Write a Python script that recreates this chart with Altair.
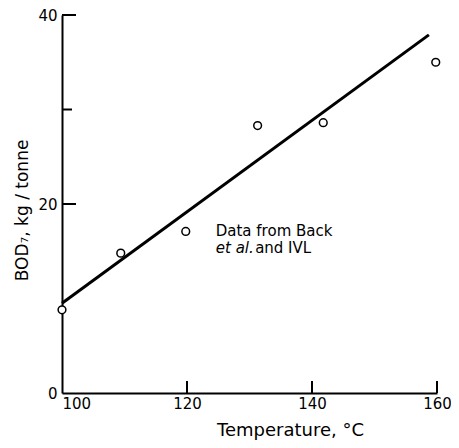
import altair as alt
import pandas as pd

# observed data (open circles)
temp_obs = [100.0, 109.4, 119.8, 131.3, 141.8, 159.8]
bod_obs = [8.8, 14.8, 17.1, 28.3, 28.6, 35.0]
# fitted line end points
fit_temp = [100.0, 158.7]
fit_bod = [9.5, 37.9]
# axis ticks
x_ticks = [100, 120, 140, 160]
y_ticks = [0, 20, 40]
x_inner_ticks = [120, 140, 160]
y_inner_major = [20, 40]
y_inner_minor = [30]
# annotation
note_text = ["Data from Back", "and IVL"]
note_x = [124.6, 130.9]
note_y = [16.6, 14.8]
note_it_text = ["et al."]
note_it_x = [124.6]
note_it_y = [14.8]

FONT = "DejaVu Sans"
W, H = 375, 378

obs = pd.DataFrame({"t": temp_obs, "b": bod_obs})
fit = pd.DataFrame({"t": fit_temp, "b": fit_bod})
xt = pd.DataFrame({"t": x_inner_ticks})
ytM = pd.DataFrame({"b": y_inner_major})
ytm = pd.DataFrame({"b": y_inner_minor})
notes = pd.DataFrame({"txt": note_text, "t": note_x, "b": note_y})
notes_it = pd.DataFrame({"txt": note_it_text, "t": note_it_x, "b": note_it_y})

xs = alt.Scale(domain=[100, 160], nice=False, zero=False)
ys = alt.Scale(domain=[0, 40], nice=False)

xaxis = alt.Axis(
    values=x_ticks, title="Temperature, °C", tickSize=0, labelPadding=3,
    labelAlign={"expr": "datum.value == 100 ? 'left' : 'center'"},
    titleX=228, titleY=42, titleAlign="center", titleBaseline="alphabetic",
    titleFontSize=18, titleFontWeight="normal", grid=False,
    domainColor="black", domainWidth=2,
)
yaxis = alt.Axis(
    values=y_ticks, title="BOD₇,   kg / tonne", tickSize=0, labelPadding=5,
    titleX=-40, titleY=195, titleAlign="center", titleBaseline="middle",
    titleFontSize=17, titleFontWeight="normal", grid=False,
    domainColor="black", domainWidth=2,
)

line = alt.Chart(fit).mark_line(color="black", strokeWidth=3).encode(
    x=alt.X("t:Q", scale=xs, axis=xaxis),
    y=alt.Y("b:Q", scale=ys, axis=yaxis),
)
pts = alt.Chart(obs).mark_point(shape="circle", size=60, filled=False, color="black",
                                fill="white", fillOpacity=1, strokeWidth=1.5, opacity=1).encode(
    x=alt.X("t:Q", scale=xs), y=alt.Y("b:Q", scale=ys)
)
xtick = alt.Chart(xt).mark_tick(color="black", thickness=2, size=12, opacity=1).encode(
    x=alt.X("t:Q", scale=xs), y=alt.value(H - 6)
)
ytickM = alt.Chart(ytM).mark_rule(color="black", strokeWidth=2).encode(
    y=alt.Y("b:Q", scale=ys), x=alt.value(0), x2=alt.value(14)
)
ytickm = alt.Chart(ytm).mark_rule(color="black", strokeWidth=2).encode(
    y=alt.Y("b:Q", scale=ys), x=alt.value(0), x2=alt.value(10)
)
txt = alt.Chart(notes).mark_text(align="left", baseline="alphabetic", fontSize=15,
                                 font=FONT, color="black").encode(
    x=alt.X("t:Q", scale=xs), y=alt.Y("b:Q", scale=ys), text="txt:N",
)
txt_it = alt.Chart(notes_it).mark_text(align="left", baseline="alphabetic", fontSize=15,
                                       font=FONT, fontStyle="italic", color="black").encode(
    x=alt.X("t:Q", scale=xs), y=alt.Y("b:Q", scale=ys), text="txt:N",
)

chart = alt.layer(line, xtick, ytickM, ytickm, pts, txt, txt_it).properties(
    width=W, height=H,
    background="white",
    autosize=alt.AutoSizeParams(type="none"),
    padding={"left": 54, "top": 7, "right": 14, "bottom": 47},
).configure_view(stroke=None).configure_axis(
    domainColor="black", domainWidth=2, grid=False, labelFont=FONT, titleFont=FONT,
    labelFontSize=15, labelColor="black", titleColor="black",
)

chart.save("out.html", embed_options={"renderer": "svg", "actions": False})
